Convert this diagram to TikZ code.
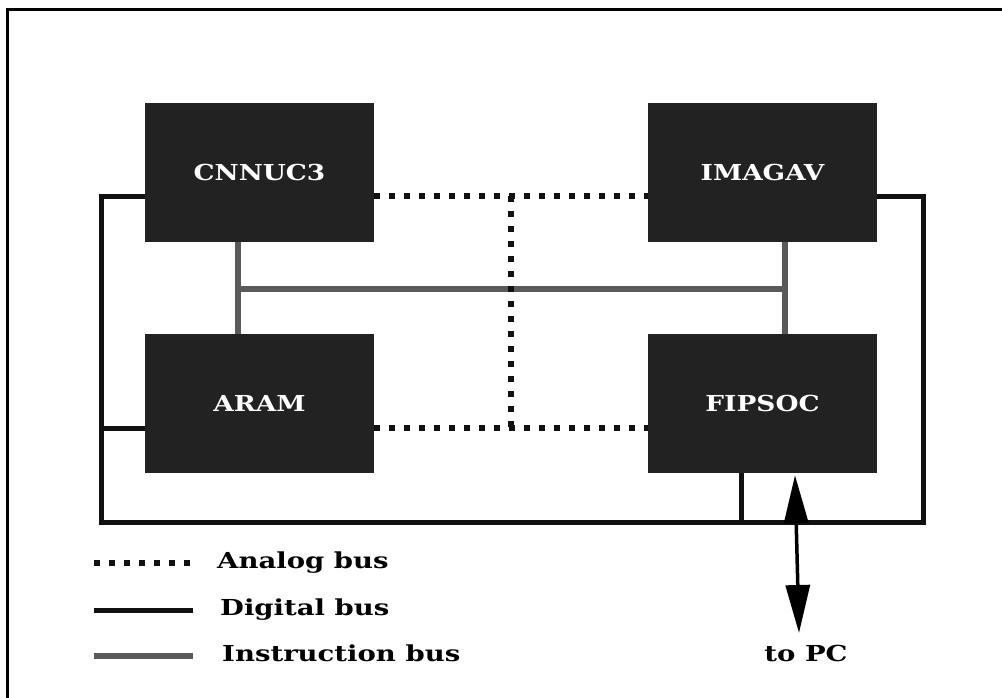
\documentclass[tikz,border=0pt]{standalone}
\usepackage{fontspec}
\setmainfont{DejaVu Serif}[BoldFont=DejaVu Serif Bold]
\newfontfamily\chipfont{DejaVu Serif Bold}[FakeStretch=1.2]
\newfontfamily\legfont{DejaVu Serif Bold}[FakeStretch=1.25]
\usetikzlibrary{calc,arrows.meta}
\definecolor{boxfill}{HTML}{222222}
\definecolor{digcol}{HTML}{111111}
\definecolor{inscol}{HTML}{5A5A5A}
\begin{document}
\begin{tikzpicture}[x=1pt,y=-1pt,
  chip/.style={draw=none,fill=boxfill,minimum width=229pt,minimum height=139pt,inner sep=0pt,
    text=white,font=\chipfont\fontsize{22}{26}\selectfont},
  digital/.style={draw=digcol,line width=5pt,line join=miter},
  instr/.style={draw=inscol,line width=6pt},
  analog/.style={draw=digcol,line width=6pt,dash pattern=on 6pt off 9pt},
  lbl/.style={font=\legfont\fontsize{22}{26}\selectfont,text=black,inner sep=0pt,
    text height=16pt,text depth=5pt},
  frame/.style={draw=black,line width=3pt}]
\useasboundingbox (0,0) rectangle (1002,698);
% outer frame (top and left edges)
\coordinate (fTL) at (7.5,9.5);
\coordinate (fTR) at (1002,9.5);
\coordinate (fBL) at (7.5,698);
\draw[frame] (fTR) -- (fTL) -- (fBL);
% chips
\node[chip] (cnn) at (259.5,172.5) {CNNUC3};
\node[chip] (ima) at (762.5,172.5) {IMAGAV};
\node[chip] (aram) at (259.5,403.5) {ARAM};
\node[chip] (fip) at (762.5,403.5) {FIPSOC};
% instruction bus
\coordinate (iL) at ($(cnn.south)+(-21.5,0)$);
\coordinate (iR) at ($(ima.south)+(22.5,0)$);
\coordinate (iLm) at ($(iL)+(0,47)$);
\coordinate (iRm) at ($(iR)+(0,47)$);
\draw[instr] (iL) -- (iL |- aram.north);
\draw[instr] (iR) -- (iR |- fip.north);
\draw[instr] (iLm) -- (iRm);
% analog bus
\coordinate (aT1) at ($(cnn.east)+(0,23.5)$);
\coordinate (aT2) at ($(ima.west)+(0,23.5)$);
\coordinate (aB1) at ($(aram.east)+(0,24.5)$);
\coordinate (aB2) at ($(fip.west)+(0,24.5)$);
\coordinate (aTm) at ($(aT1)!0.5!(aT2)$);
\coordinate (aBm) at ($(aB1)!0.5!(aB2)$);
\draw[analog] (aT1) -- (aT2);
\draw[analog] (aB1) -- (aB2);
\draw[analog] (aTm) -- (aBm);
% digital bus
\coordinate (dBL) at (101,522);
\coordinate (dBR) at (923,522);
\coordinate (dC) at ($(cnn.west)+(0,24.5)$);
\coordinate (dI) at ($(ima.east)+(0,24.5)$);
\coordinate (dA) at ($(aram.west)+(0,24.5)$);
\coordinate (dF) at ($(fip.south)+(-21.5,0)$);
\draw[digital] (dC) -| (dBL) -- (dBR) |- (dI);
\draw[digital] (dA) -- (dA -| dBL);
\draw[digital] (dF) -- (dF |- dBR);
% to PC
\node[lbl,anchor=north] (pc) at (806,645) {to PC};
\coordinate (pcTop) at ($(fip.south)+(32.5,2)$);
\coordinate (pcBot) at (799,633);
\draw[draw=black,line width=3.5pt,
  {Triangle[length=48pt,width=24pt]}-{Triangle[length=48pt,width=24pt]}] (pcTop) -- (pcBot);
% legend
\coordinate (l1a) at (94,563);  \coordinate (l1b) at (193,563);
\coordinate (l2a) at (94,610);  \coordinate (l2b) at (193,610);
\coordinate (l3a) at (94,656);  \coordinate (l3b) at (193,656);
\draw[analog] (l1a) -- (l1b);
\draw[digital] (l2a) -- (l2b);
\draw[instr] (l3a) -- (l3b);
\node[lbl,anchor=west] (t1) at (217,563) {Analog bus};
\node[lbl,anchor=west] (t2) at (220,610) {Digital bus};
\node[lbl,anchor=west] (t3) at (222,656) {Instruction bus};
\end{tikzpicture}
\end{document}
